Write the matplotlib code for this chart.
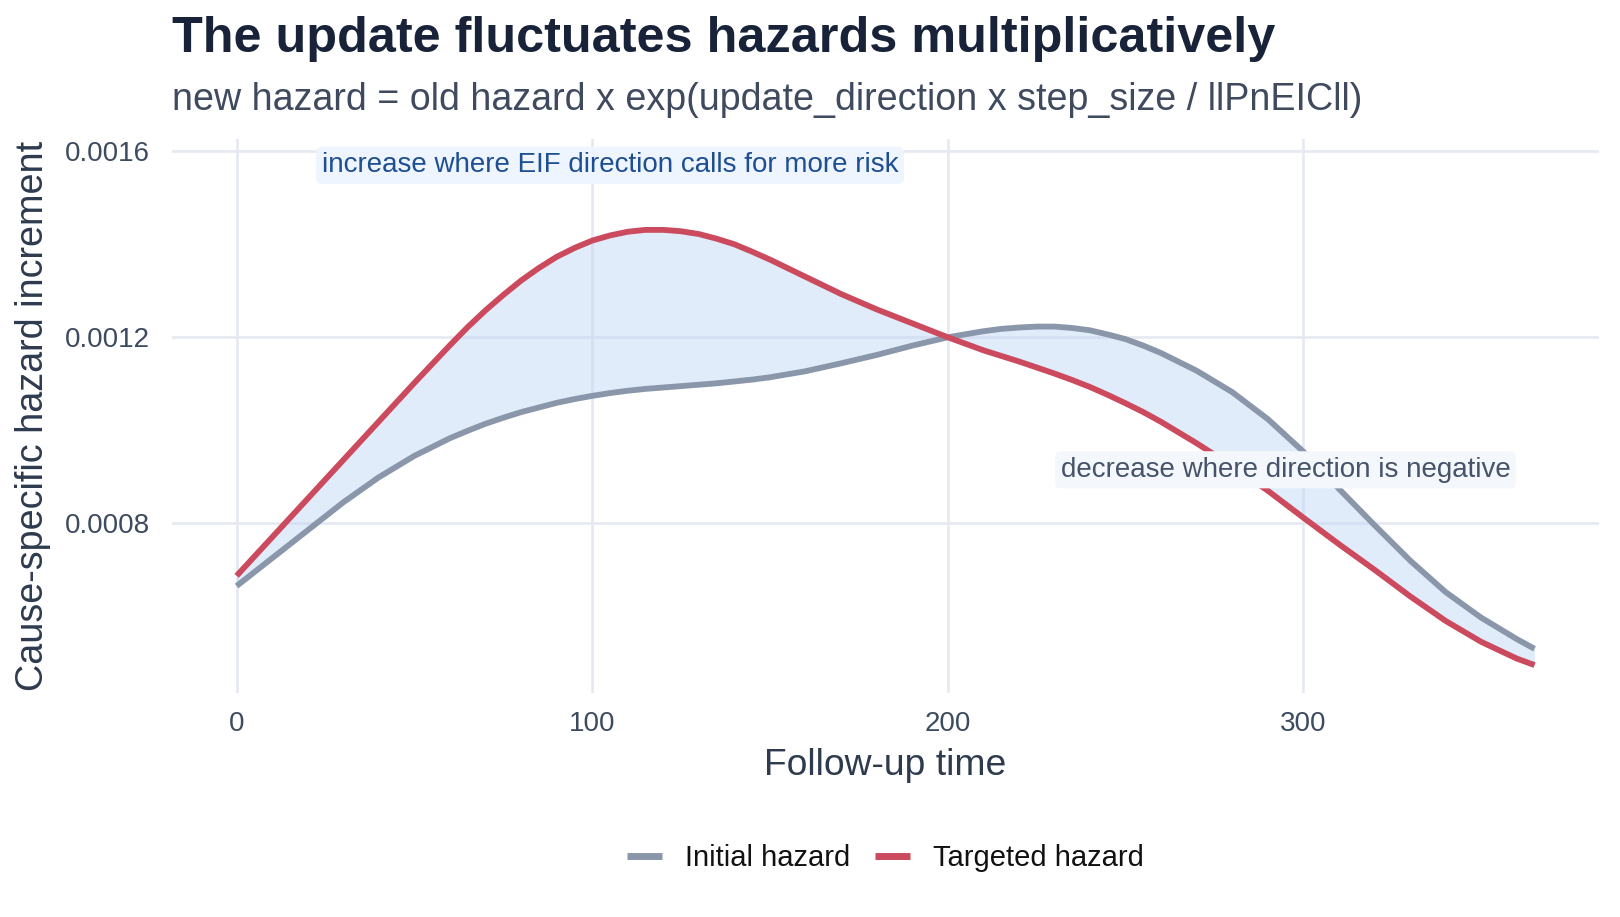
import matplotlib
matplotlib.use("Agg")
import matplotlib.pyplot as plt
import numpy as np

plt.rcParams["font.family"] = ["Liberation Sans", "DejaVu Sans"]

# follow-up time (days) and hazard increments
time = [0, 10, 20, 30, 40, 50, 60, 65, 70, 75, 80, 85, 90, 95, 100, 105, 110,
        115, 120, 125, 130, 135, 140, 145, 150, 160, 170, 180, 190, 200, 210,
        215, 220, 225, 230, 235, 240, 245, 250, 255, 260, 270, 280, 290, 300,
        310, 320, 330, 340, 350, 360, 365]

initial_hazard = [0.000665, 0.000725, 0.000785, 0.000845, 0.000899, 0.000945,
                  0.000983, 0.000999, 0.001014, 0.001027, 0.001039, 0.001049,
                  0.001059, 0.001067, 0.001074, 0.001080, 0.001085, 0.001089,
                  0.001092, 0.001095, 0.001098, 0.001101, 0.001105, 0.001109,
                  0.001114, 0.001127, 0.001144, 0.001162, 0.001182, 0.001200,
                  0.001213, 0.001218, 0.001221, 0.001223, 0.001223, 0.001220,
                  0.001215, 0.001206, 0.001196, 0.001182, 0.001166, 0.001128,
                  0.001082, 0.001024, 0.000954, 0.000874, 0.000796, 0.000720,
                  0.000652, 0.000597, 0.000551, 0.000530]

targeted_hazard = [0.000687, 0.000770, 0.000853, 0.000936, 0.001019, 0.001102,
                   0.001183, 0.001222, 0.001258, 0.001291, 0.001322, 0.001349,
                   0.001373, 0.001392, 0.001408, 0.001419, 0.001427, 0.001431,
                   0.001431, 0.001428, 0.001422, 0.001412, 0.001400, 0.001384,
                   0.001367, 0.001330, 0.001293, 0.001260, 0.001230, 0.001200,
                   0.001172, 0.001160, 0.001148, 0.001135, 0.001122, 0.001108,
                   0.001093, 0.001076, 0.001058, 0.001039, 0.001018, 0.000972,
                   0.000923, 0.000870, 0.000812, 0.000755, 0.000700, 0.000643,
                   0.000590, 0.000545, 0.000509, 0.000495]

x_ticks = [0, 100, 200, 300]
y_ticks = [0.0008, 0.0012, 0.0016]

# annotation labels (x, y, text)
label_up = (105, 0.00157, "increase where EIF direction calls for more risk")
label_down = (295, 0.000915, "decrease where direction is negative")

GRAY = "#8a97ab"
RED = "#cc4a5e"
TEXT_DARK = "#182238"
TEXT_MID = "#2e3a4e"

fig = plt.figure(figsize=(16.2, 9.17), dpi=100)
ax = fig.add_axes([0.106, 0.2443, 0.8813, 0.6044])

# ribbon between the two curves
ax.fill_between(time, initial_hazard, targeted_hazard, color="#bcd5f5",
                alpha=0.45, linewidth=0, zorder=2)
ax.plot(time, initial_hazard, color=GRAY, lw=4.2, label="Initial hazard",
        solid_capstyle="butt", solid_joinstyle="round", zorder=3)
ax.plot(time, targeted_hazard, color=RED, lw=4.2, label="Targeted hazard",
        solid_capstyle="butt", solid_joinstyle="round", zorder=4)

ax.text(label_up[0], label_up[1], label_up[2], ha="center", va="center",
        fontsize=20, color="#1e4f93", zorder=6,
        bbox=dict(boxstyle="round,pad=0.2,rounding_size=0.2",
                  fc="#eef5fe", ec="none"))
ax.text(label_down[0], label_down[1], label_down[2], ha="center", va="center",
        fontsize=20, color="#46536a", zorder=6,
        bbox=dict(boxstyle="round,pad=0.2,rounding_size=0.2",
                  fc="#f4f7fb", ec="none"))

ax.set_xlim(-18.25, 383.25)
ax.set_ylim(0.000435, 0.001627)
ax.set_xticks(x_ticks)
ax.set_yticks(y_ticks)
ax.set_yticklabels([f"{v:.4f}" for v in y_ticks])
ax.tick_params(length=0, labelsize=20, labelcolor="#3d4b60")
ax.tick_params(axis="y", pad=15.5)
ax.tick_params(axis="x", pad=13)

ax.grid(True, color="#e6e9f1", lw=1.9, zorder=0)
ax.set_axisbelow(True)
for s in ax.spines.values():
    s.set_visible(False)

ax.set_xlabel("Follow-up time", fontsize=26.8, color=TEXT_MID, labelpad=8)
ax.set_ylabel("Cause-specific hazard increment", fontsize=27.2,
              color=TEXT_MID, labelpad=10)

fig.text(0.1062, 0.9575, "The update fluctuates hazards multiplicatively",
         fontsize=36.3, fontweight="bold", color=TEXT_DARK, va="center")
fig.text(0.1062, 0.891,
         "new hazard = old hazard x exp(update_direction x step_size / llPnEICll)",
         fontsize=27.1, color="#3f4a5e", va="center")

leg = ax.legend(loc="center", bbox_to_anchor=(0.5, -0.2977), ncol=2,
                frameon=False, fontsize=21, handlelength=1.2,
                handletextpad=0.8, columnspacing=0.85)
for t in leg.get_texts():
    t.set_color("#111111")
for h in leg.get_lines():
    h.set_linewidth(5)

fig.savefig("out.png", dpi=100)
